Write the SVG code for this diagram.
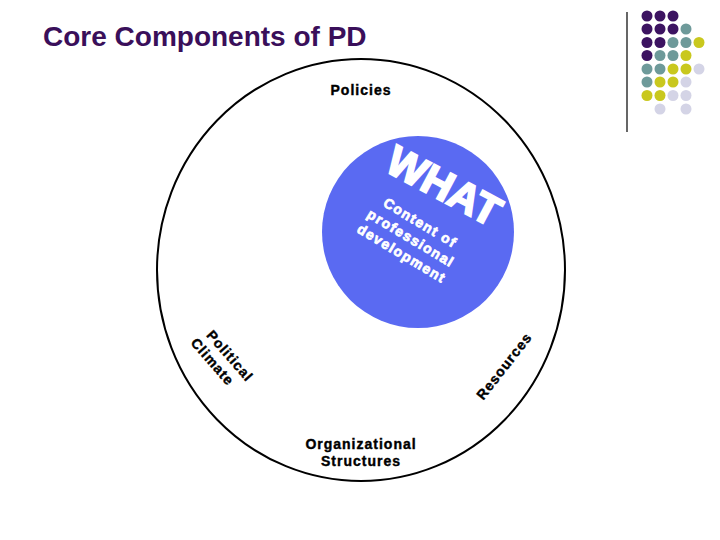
<svg xmlns="http://www.w3.org/2000/svg" width="720" height="540" viewBox="0 0 720 540">
<style>
.lbl{font-family:"Liberation Sans",Arial,sans-serif;font-weight:bold;fill:#000;stroke:#000;stroke-width:0.4;font-size:14px;letter-spacing:1px}
.wht{font-family:"Liberation Sans",Arial,sans-serif;font-weight:bold;fill:#fff;stroke:#fff}
.p{fill:#3c1361}.t{fill:#6e9a9a}.y{fill:#c9c81e}.l{fill:#d4d4e6}
</style>
<rect width="720" height="540" fill="#fff"/>
<text x="43" y="46" font-family="Liberation Sans,Arial,sans-serif" font-weight="bold" font-size="28" fill="#3a0f5a">Core Components of PD</text>
<g id="decor">
<line x1="627" y1="12" x2="627" y2="132" stroke="#000" stroke-width="1.2"/>
<g>
<circle class="p" cx="647" cy="16" r="5.5"/><circle class="p" cx="660" cy="16" r="5.5"/><circle class="p" cx="673" cy="16" r="5.5"/>
<circle class="p" cx="647" cy="29" r="5.5"/><circle class="p" cx="660" cy="29" r="5.5"/><circle class="p" cx="673" cy="29" r="5.5"/><circle class="t" cx="686" cy="29" r="5.5"/>
<circle class="p" cx="647" cy="42.5" r="5.5"/><circle class="p" cx="660" cy="42.5" r="5.5"/><circle class="t" cx="673" cy="42.5" r="5.5"/><circle class="t" cx="686" cy="42.5" r="5.5"/><circle class="y" cx="699" cy="42.5" r="5.5"/>
<circle class="p" cx="647" cy="55.5" r="5.5"/><circle class="t" cx="660" cy="55.5" r="5.5"/><circle class="t" cx="673" cy="55.5" r="5.5"/><circle class="y" cx="686" cy="55.5" r="5.5"/>
<circle class="t" cx="647" cy="69" r="5.5"/><circle class="t" cx="660" cy="69" r="5.5"/><circle class="y" cx="673" cy="69" r="5.5"/><circle class="y" cx="686" cy="69" r="5.5"/><circle class="l" cx="699" cy="69" r="5.5"/>
<circle class="t" cx="647" cy="82" r="5.5"/><circle class="y" cx="660" cy="82" r="5.5"/><circle class="y" cx="673" cy="82" r="5.5"/><circle class="l" cx="686" cy="82" r="5.5"/>
<circle class="y" cx="647" cy="95.5" r="5.5"/><circle class="y" cx="660" cy="95.5" r="5.5"/><circle class="l" cx="673" cy="95.5" r="5.5"/><circle class="l" cx="686" cy="95.5" r="5.5"/>
<circle class="l" cx="660" cy="109" r="5.5"/><circle class="l" cx="686" cy="109" r="5.5"/>
</g>
</g>
<g id="outer">
<ellipse cx="361" cy="270" rx="204" ry="211" fill="none" stroke="#000" stroke-width="2"/>
<text class="lbl" x="361" y="95" text-anchor="middle">Policies</text>
<text class="lbl" x="361" y="449" text-anchor="middle">Organizational</text>
<text class="lbl" x="361" y="466" text-anchor="middle">Structures</text>
<text class="lbl" letter-spacing="1.6" transform="translate(224,361) rotate(49)" text-anchor="middle"><tspan x="0" y="-3">Political</tspan><tspan x="-7" y="14">Climate</tspan></text>
<text class="lbl" letter-spacing="1.4" transform="translate(504,366) rotate(-52)" text-anchor="middle" y="5">Resources</text>
</g>
<g id="what">
<circle cx="418" cy="232" r="96" fill="#5a6af2"/>
<text class="wht" font-size="42" stroke-width="2" transform="translate(383,170) rotate(28)">WHAT</text>
<g transform="translate(411,238) rotate(31)">
<text class="wht" font-size="14" stroke-width="0.7" letter-spacing="1.3" text-anchor="middle" y="-13">Content of</text>
<text class="wht" font-size="14" stroke-width="0.7" letter-spacing="1.3" text-anchor="middle" y="5">professional</text>
<text class="wht" font-size="14" stroke-width="0.7" letter-spacing="1.3" text-anchor="middle" y="23">development</text>
</g>
</g>
</svg>
